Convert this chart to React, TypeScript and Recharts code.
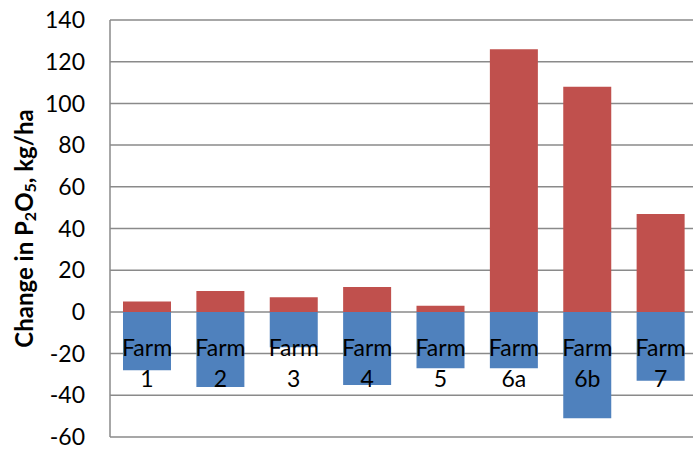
import { Bar, BarChart, CartesianGrid, LabelList, XAxis, YAxis } from 'recharts';

const farms = ['Farm 1', 'Farm 2', 'Farm 3', 'Farm 4', 'Farm 5', 'Farm 6a', 'Farm 6b', 'Farm 7'];
const gains = [5, 10, 7, 12, 3, 126, 108, 47];
const losses = [-28, -36, -17, -35, -27, -27, -51, -33];
const yTicks = [-60, -40, -20, 0, 20, 40, 60, 80, 100, 120, 140];

const RED = '#C0504D';
const BLUE = '#4F81BD';
const GRID = '#8a8a8a';
const FONT = 'Lato, sans-serif';

const data = farms.map((name, i) => ({ name, gain: gains[i], loss: losses[i] }));

function FarmLabel(props: any) {
  const { x, y, width, height, value } = props;
  const top = Math.min(Number(y), Number(y) + Number(height));
  const cx = Number(x) + Number(width) / 2;
  const [word, num] = String(value).split(' ');
  return (
    <g>
      <text x={cx} y={top + 44} textAnchor="middle" fontSize={23} fontFamily={FONT} fill="#000">
        {word}
      </text>
      <text x={cx} y={top + 75} textAnchor="middle" fontSize={23} fontFamily={FONT} fill="#000">
        {num}
      </text>
    </g>
  );
}

function AxisTitle(props: any) {
  const vb = props.viewBox || { x: 0, y: 0, width: 0, height: 0 };
  const cx = vb.x + 23;
  const cy = vb.y + vb.height / 2;
  return (
    <text
      x={cx}
      y={cy}
      transform={`rotate(-90, ${cx}, ${cy})`}
      textAnchor="middle"
      dominantBaseline="central"
      fontSize={24}
      fontWeight="bold"
      fontFamily={FONT}
      fill="#000"
    >
      Change in P
      <tspan dy={6} fontSize={16}>2</tspan>
      <tspan dy={-6}>O</tspan>
      <tspan dy={6} fontSize={16}>5</tspan>
      <tspan dy={-6}>, kg/ha</tspan>
    </text>
  );
}

export default function App() {
  return (
    <div style={{ position: 'absolute', left: 0, top: 0, width: 693, height: 449, overflow: 'hidden', background: '#fff' }}>
      <BarChart
        width={697}
        height={449}
        data={data}
        stackOffset="sign"
        margin={{ top: 20, right: 0, bottom: 12, left: 0 }}
      >
        <CartesianGrid vertical={false} stroke={GRID} strokeWidth={1.5} />
        <XAxis dataKey="name" hide />
        <YAxis
          domain={[-60, 140]}
          ticks={yTicks}
          interval={0}
          width={110}
          tickLine={false}
          tickSize={0}
          tickMargin={25}
          axisLine={{ stroke: GRID, strokeWidth: 1.5 }}
          tick={{ fontSize: 23, fontFamily: FONT, fill: '#000' }}
          label={<AxisTitle />}
        />
        <Bar dataKey="gain" stackId="p" fill={RED} barSize={48} isAnimationActive={false} />
        <Bar dataKey="loss" stackId="p" fill={BLUE} barSize={48} isAnimationActive={false}>
          <LabelList dataKey="name" content={<FarmLabel />} />
        </Bar>
      </BarChart>
    </div>
  );
}
